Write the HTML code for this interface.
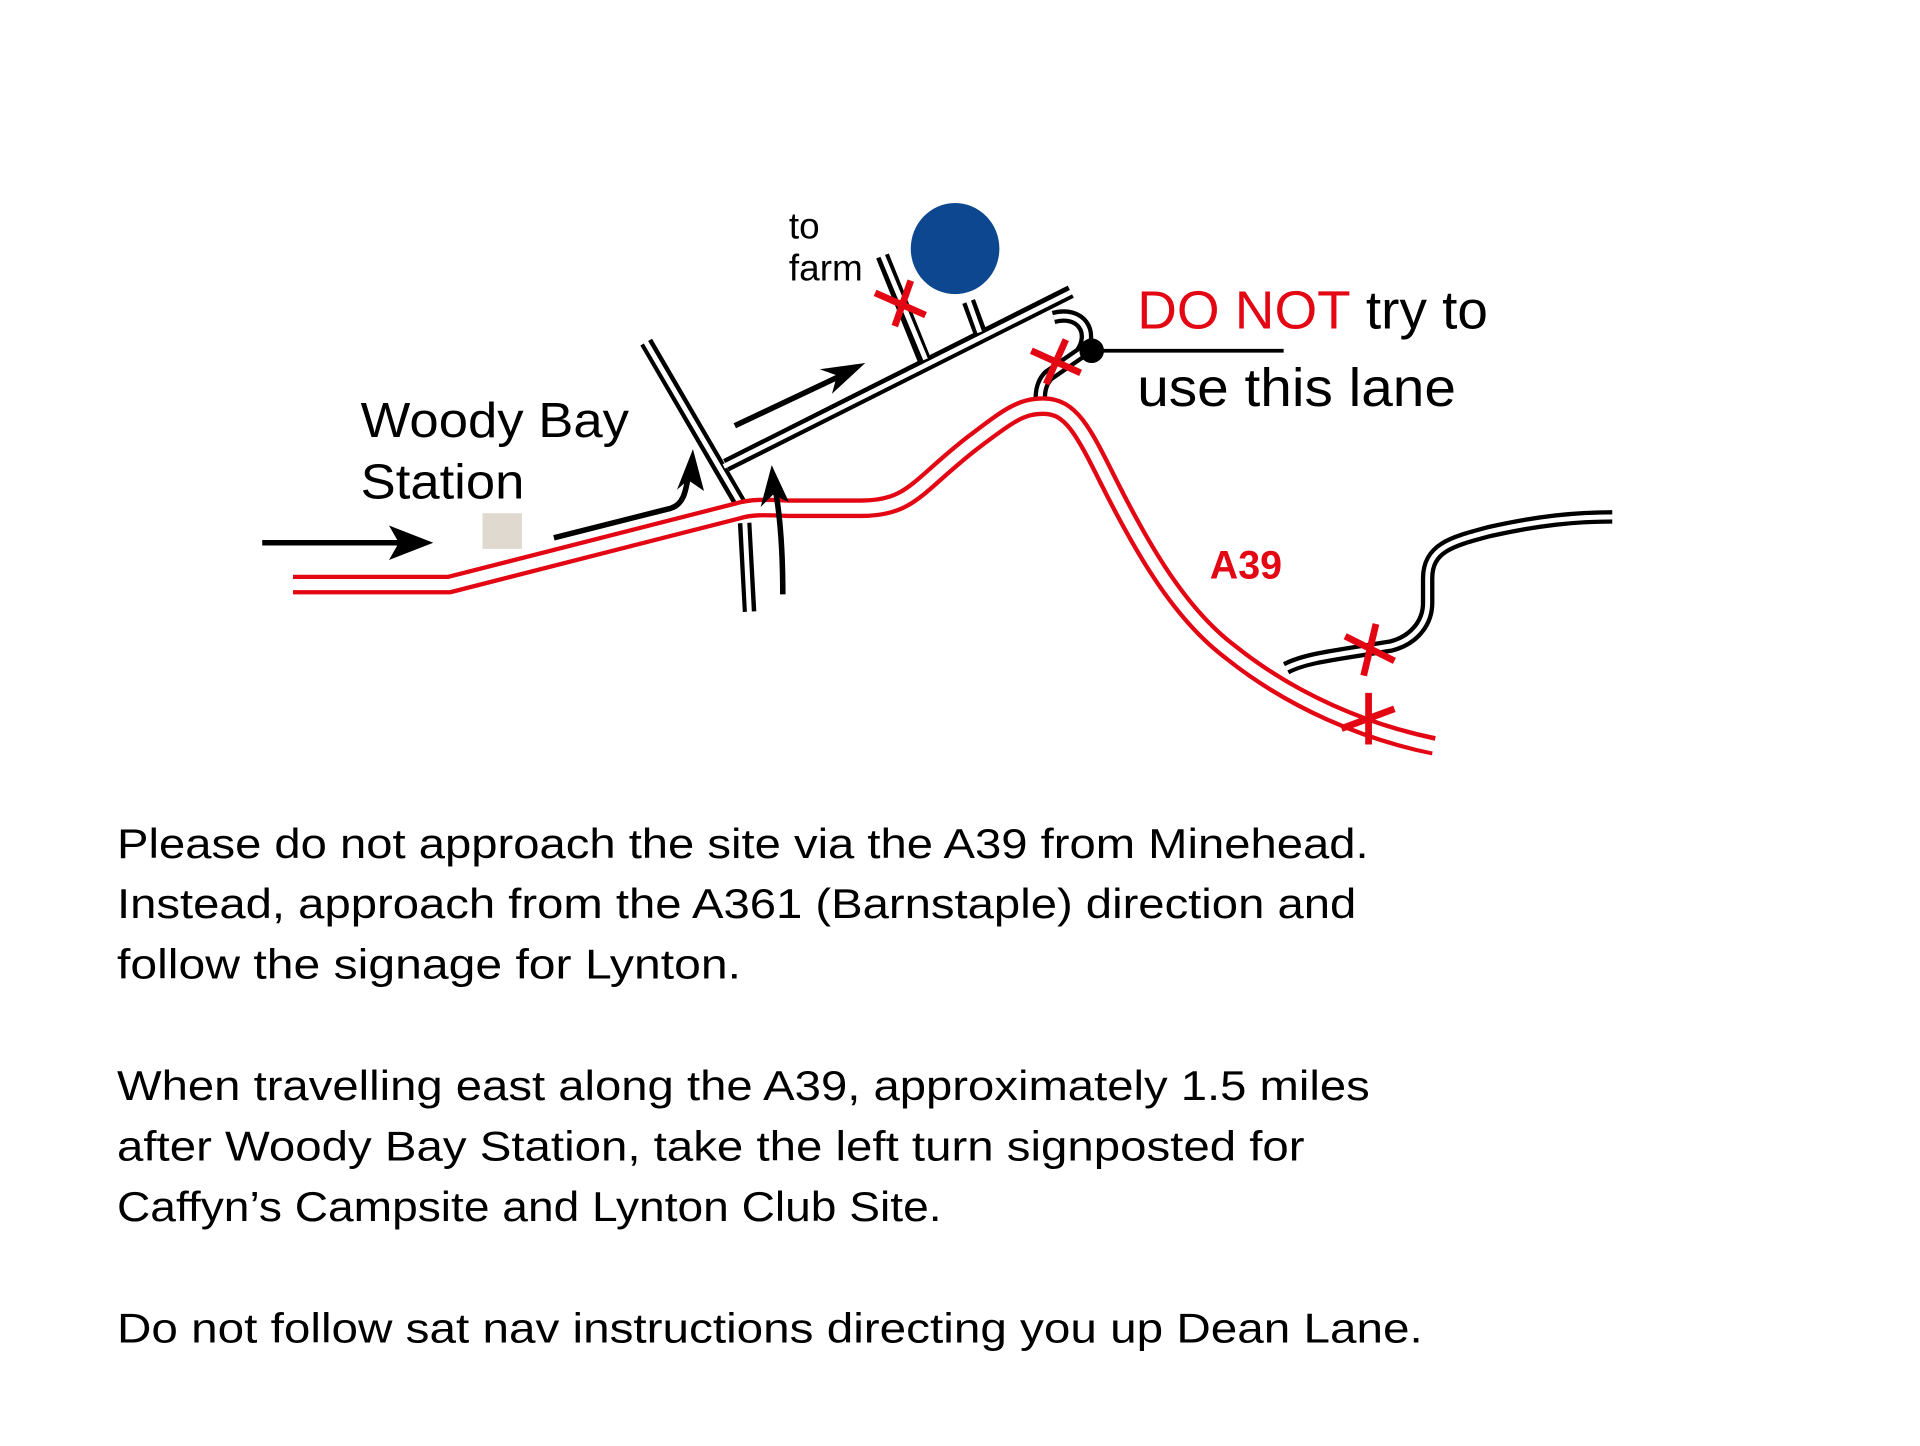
<!DOCTYPE html>
<html><head><meta charset="utf-8"><style>html,body{margin:0;padding:0;background:#fff}svg{display:block}</style></head>
<body>
<svg width="1920" height="1446" viewBox="0 0 1560 1175" xmlns="http://www.w3.org/2000/svg">
<rect width="1560" height="1175" fill="#fff"/>
<g fill="none" stroke-linejoin="round">
<g stroke="#000" stroke-width="11">
<path d="M605,425 L609,497"/>
<path d="M525,278 L603,412"/>
<path d="M590,378 L870,237"/>
<path d="M717,208 L752,295"/>
<path d="M787,245 L797,272"/>
<path d="M856,258 C878,252 890,270 878,287 L852,305 C845,312 845,320 845,332"/>
<path d="M1045,543 C1060,535 1080,533 1130,525 C1150,520 1160,505 1160,490 L1160,470 C1160,445 1180,440 1210,432 C1250,423 1280,420 1310,420"/>
</g>
<g stroke="#fff" stroke-width="4">
<path d="M605,422 L609,500"/>
<path d="M523,275 L605,415"/>
<path d="M588,379 L873,236"/>
<path d="M716,205 L752,292"/>
<path d="M786,242 L796,270"/>
<path d="M856,258 C878,252 890,270 878,287 L852,305 C845,312 845,320 845,332"/>
<path d="M1043,544 C1060,535 1080,533 1130,525 C1150,520 1160,505 1160,490 L1160,470 C1160,445 1180,440 1210,432 C1250,423 1280,420 1313,420"/>
</g>
<path d="M238,475 L365,475 L600,415 C610,412 620,412 640,413 L700,413 C740,413 745,395 790,360 C820,337 830,330 848,330 C870,330 880,350 900,390 C930,450 960,500 1000,530 C1050,570 1110,595 1165,606" stroke="#e30613" stroke-width="16"/>
<path d="M236,475 L365,475 L600,415 C610,412 620,412 640,413 L700,413 C740,413 745,395 790,360 C820,337 830,330 848,330 C870,330 880,350 900,390 C930,450 960,500 1000,530 C1050,570 1110,595 1168,607" stroke="#fff" stroke-width="9"/>
<g stroke="#000" stroke-width="4.5">
<path d="M213,441 L335,441"/>
<path d="M450,437 L545,413 C555,410 557,400 559,388"/>
<path d="M597,346 L688,303"/>
<path d="M636,483 C636,440 633,415 630,398"/>
<path d="M893,285 L1043,285" stroke-width="3"/>
</g>
<g stroke="#e30613" stroke-width="5.5">
<path d="M740,228 L727,265 M711,238 L752,256"/>
<path d="M866,276 L850,312 M838,285 L878,303"/>
<path d="M1118,507 L1108,549 M1093,517 L1133,537"/>
<path d="M1112,563 L1112,605 M1090,592 L1133,576"/>
</g>
</g>
<g fill="#000">
<polygon points="352,441 316,427 324,441 316,455"/>
<polygon points="563,365 550,398 559,390 572,399"/>
<polygon points="703,295 666,300 680,305 676,320"/>
<polygon points="627,378 618,412 628,402 641,408"/>
<circle cx="887" cy="285" r="10"/>
</g>
<rect x="392" y="417" width="32" height="29" fill="#e0d9d0"/>
<ellipse cx="776" cy="202" rx="36" ry="37" fill="#0c4790"/>
<g font-family="Liberation Sans, sans-serif" fill="#000">
<text x="293" y="355" font-size="40" textLength="218" lengthAdjust="spacingAndGlyphs">Woody Bay</text>
<text x="293" y="405" font-size="40" textLength="133" lengthAdjust="spacingAndGlyphs">Station</text>
<text x="641" y="194" font-size="30">to</text>
<text x="641" y="228" font-size="30">farm</text>
<text x="924" y="267" font-size="44" textLength="285" lengthAdjust="spacingAndGlyphs"><tspan fill="#e30613">DO NOT</tspan> try to</text>
<text x="924" y="330" font-size="44" textLength="259" lengthAdjust="spacingAndGlyphs">use this lane</text>
<text x="983" y="470" font-size="32" font-weight="bold" fill="#e30613">A39</text>
</g>
<g font-family="Liberation Sans, sans-serif" font-size="34" fill="#000">
<text x="95" y="697" textLength="1017" lengthAdjust="spacingAndGlyphs">Please do not approach the site via the A39 from Minehead.</text>
<text x="95" y="746" textLength="1007" lengthAdjust="spacingAndGlyphs">Instead, approach from the A361 (Barnstaple) direction and</text>
<text x="95" y="795" textLength="507" lengthAdjust="spacingAndGlyphs">follow the signage for Lynton.</text>
<text x="95" y="894" textLength="1018" lengthAdjust="spacingAndGlyphs">When travelling east along the A39, approximately 1.5 miles</text>
<text x="95" y="943" textLength="965" lengthAdjust="spacingAndGlyphs">after Woody Bay Station, take the left turn signposted for</text>
<text x="95" y="992" textLength="670" lengthAdjust="spacingAndGlyphs">Caffyn’s Campsite and Lynton Club Site.</text>
<text x="95" y="1091" textLength="1061" lengthAdjust="spacingAndGlyphs">Do not follow sat nav instructions directing you up Dean Lane.</text>
</g>
</svg>
</body></html>
